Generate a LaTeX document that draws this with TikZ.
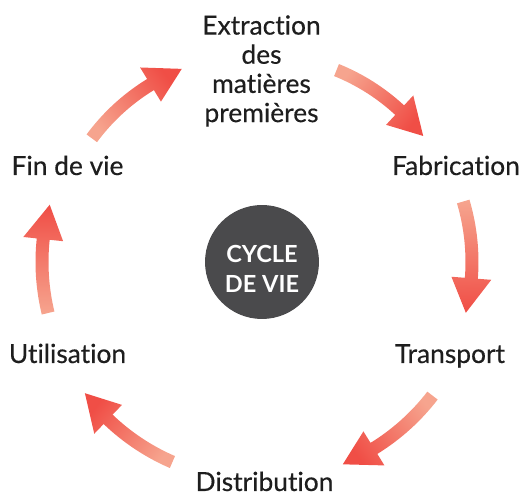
\documentclass[tikz,border=0pt]{standalone}
\usepackage{fontspec}
\setmainfont{Lato}[Ligatures=NoCommon, FakeBold=0.4]
\newfontfamily\hubfont{Lato Bold}[Ligatures=NoCommon]
\usepackage{tikz}
\usetikzlibrary{calc}
\definecolor{inkgray}{HTML}{1E1E1E}
\definecolor{hubgray}{HTML}{4A4A4C}
\definecolor{flowlight}{HTML}{F6A48E}
\definecolor{flowred}{HTML}{F04E46}
\tikzset{%
    stage/.style={%
        inner sep=0pt,
        text=inkgray,
        font=\fontsize{15}{16.6}\selectfont,
        align=center,
    },
    hub/.style={%
        circle,
        fill=hubgray,
        minimum size=2.28cm,
        inner sep=0pt,
    },
    hubtext/.style={%
        inner sep=0pt,
        text=white,
        font=\hubfont\fontsize{13.4}{17}\selectfont,
        align=center,
    },
    flow/.style={%
        top color=flowred,
        bottom color=flowlight,
    },
}
\newcommand{\lifearrow}[4]{%
    \pgfmathsetmacro{\headbase}{#3+35/#4*180/pi}%
    \pgfmathsetmacro{\flowangle}{(#2+#3)/2+180}%
    \pgfmathsetmacro{\outr}{#4+6.5}%
    \pgfmathsetmacro{\inr}{#4-6.5}%
    \pgfmathsetmacro{\outh}{#4+20}%
    \pgfmathsetmacro{\inh}{#4-20}%
    \coordinate (#1_tail) at ($(core)+(#2:#4)$);
    \coordinate (#1_tip) at ($(core)+(#3:#4)$);
    \path[flow, shading angle=\flowangle]
        ($(core)+(#2:\outr)$) arc[start angle=#2, end angle=\headbase, radius=\outr]
        -- ($(core)+(\headbase:\outh)$) -- (#1_tip)
        -- ($(core)+(\headbase:\inh)$) -- ($(core)+(\headbase:\inr)$)
        arc[start angle=\headbase, end angle=#2, radius=\inr] -- cycle;
}
\begin{document}
\begin{tikzpicture}[x=0.02cm, y=0.02cm]
	\useasboundingbox (0,0) rectangle (522,494);

	\coordinate (core) at (259, 232);
	\coordinate (hub_centre) at (262, 232);

	\node [hub] at (hub_centre) (hub) {};
	\node [hubtext] at ($(hub)+(0,-7)$) (hub_text) {CYCLE\\DE VIE};

	\node [stage, anchor=north] at (261.5, 479) (stage_ext) {Extraction\\des\\matières\\premières};
	\node [stage, anchor=base] at (456, 319) (stage_fab) {Fabrication};
	\node [stage, anchor=base] at (450, 131) (stage_trans) {Transport};
	\node [stage, anchor=base] at (264.5, 3) (stage_dist) {Distribution};
	\node [stage, anchor=base] at (67.5, 131) (stage_use) {Utilisation};
	\node [stage, anchor=base] at (67.5, 319) (stage_end) {Fin de vie};

	\lifearrow{ext_fab}{68}{37.5}{207}
	\lifearrow{fab_trans}{16.5}{-13.8}{213}
	\lifearrow{trans_dist}{-37.6}{-67.5}{219}
	\lifearrow{dist_use}{-113.4}{-143}{218}
	\lifearrow{use_end}{193.6}{164.7}{217}
	\lifearrow{end_ext}{143.5}{111.8}{208}
\end{tikzpicture}
\end{document}
